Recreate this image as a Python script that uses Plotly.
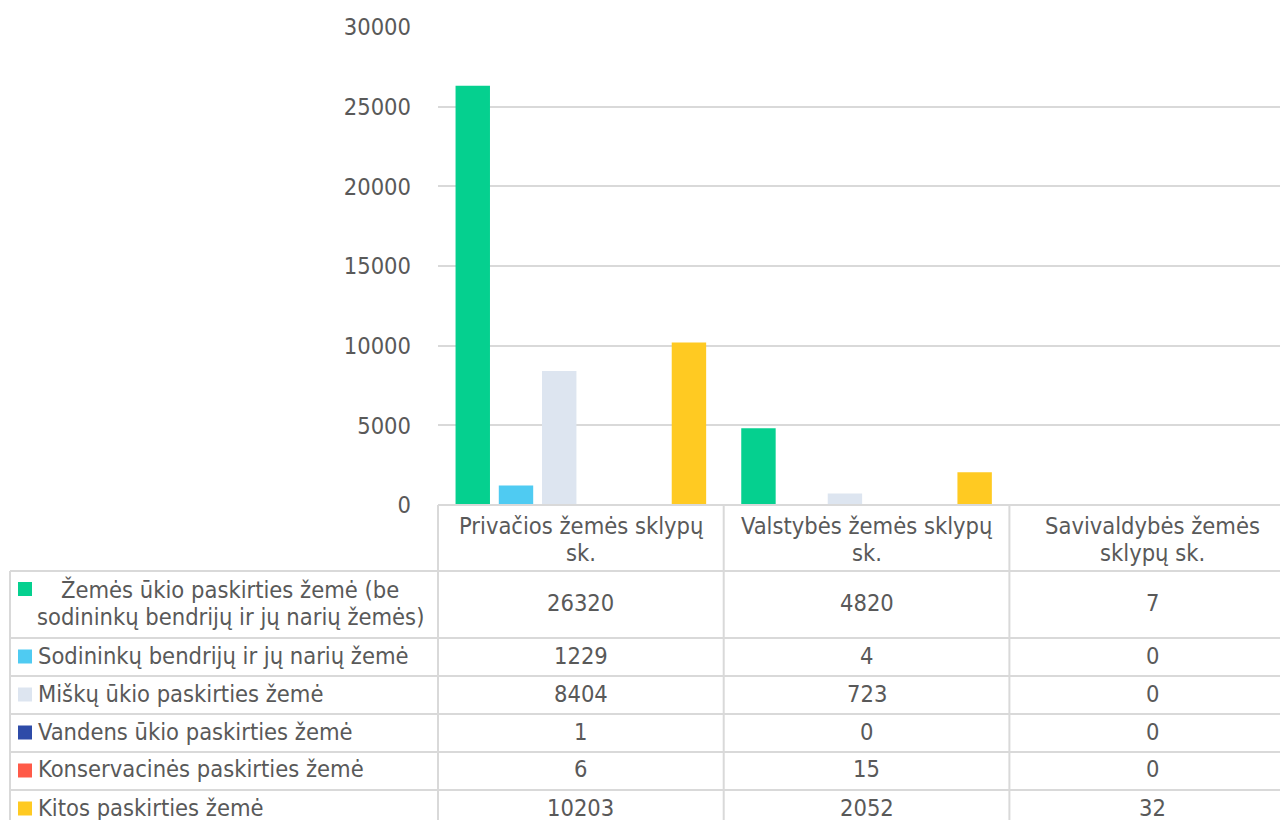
import plotly.graph_objects as go

# ---- data ----
categories = ["Privačios žemės sklypų<br>sk.", "Valstybės žemės sklypų<br>sk.", "Savivaldybės žemės<br>sklypų sk."]
series_names = [
    "Žemės ūkio paskirties žemė (be<br>sodininkų bendrijų ir jų narių žemės)",
    "Sodininkų bendrijų ir jų narių žemė",
    "Miškų ūkio paskirties žemė",
    "Vandens ūkio paskirties žemė",
    "Konservacinės paskirties žemė",
    "Kitos paskirties žemė",
]
zemes_ukio = [26320, 4820, 7]
sodininku = [1229, 4, 0]
misku_ukio = [8404, 723, 0]
vandens_ukio = [1, 0, 0]
konservacines = [6, 15, 0]
kitos = [10203, 2052, 32]
series_values = [zemes_ukio, sodininku, misku_ukio, vandens_ukio, konservacines, kitos]
colors = ["#05D08F", "#4FCBF2", "#DDE5F0", "#2E4BA8", "#FF5A48", "#FFCA22"]
y_ticks = [0, 5000, 10000, 15000, 20000, 25000, 30000]

# ---- layout geometry ----
# page has an 8px body margin; all reference pixel positions below are page pixels
OFF = 8
W, H = 1288 - OFF, 820 - OFF
ML_REF, TOP_REF, BASE_REF = 438, 27, 505
ML, MR, MT = ML_REF - OFF, 0, TOP_REF - OFF
PW = W - ML - MR
PH = BASE_REF - TOP_REF
MB = H - MT - PH
CAT_PX = 285.7

FONT = "DejaVu Sans Condensed, Noto Sans, sans-serif"
TXT = "#595959"
GRID = "#D9D9D9"
FS = 23.5

def px2x(px):
    return (px - ML_REF) / PW

def px2y(py):
    return (BASE_REF - py) / PH

fig = go.Figure()
xs = [0, 1, 2]
for name, vals, col in zip(series_names, series_values, colors):
    fig.add_trace(go.Bar(x=xs, y=vals, name=name, marker=dict(color=col, line=dict(width=0)),
                         showlegend=False))

shapes = []
annotations = []

# table geometry (page pixels)
row_edges = [505, 571, 638, 676, 714, 752, 790, 828]
col_edges_px = [ML_REF + CAT_PX * k for k in range(4)]
left_px = 10

def hline(py, x0px, x1px):
    shapes.append(dict(type="line", xref="paper", yref="paper",
                       x0=px2x(x0px), x1=px2x(x1px), y0=px2y(py), y1=px2y(py),
                       line=dict(color=GRID, width=2)))

def vline(px, y0px, y1px):
    shapes.append(dict(type="line", xref="paper", yref="paper",
                       x0=px2x(px), x1=px2x(px), y0=px2y(y0px), y1=px2y(y1px),
                       line=dict(color=GRID, width=2)))

hline(row_edges[0], col_edges_px[0], col_edges_px[3])
for r in row_edges[1:]:
    hline(r, left_px, col_edges_px[3])
vline(left_px, row_edges[1], row_edges[-1])
for c in col_edges_px:
    vline(c, row_edges[0], row_edges[-1])

LINE_H = 27

def add_lines(text, cx_px, cy_px, xanchor="center"):
    lines = text.split("<br>")
    n = len(lines)
    for i, ln in enumerate(lines):
        py = cy_px + (i - (n - 1) / 2) * LINE_H
        annotations.append(dict(xref="paper", yref="paper", x=px2x(cx_px), y=px2y(py),
                                text=ln, showarrow=False, xanchor=xanchor, yanchor="middle",
                                font=dict(family=FONT, size=FS, color=TXT)))

# header (category labels)
for k, cat in enumerate(categories):
    cx = (col_edges_px[k] + col_edges_px[k + 1]) / 2
    add_lines(cat, cx, (row_edges[0] + row_edges[1]) / 2 + 1)

# rows: legend keys, names, values
for i, (name, vals, col) in enumerate(zip(series_names, series_values, colors)):
    top, bot = row_edges[i + 1], row_edges[i + 2]
    cy = (top + bot) / 2 - 1.5
    key_cy = top + 18 if i == 0 else cy + 1
    shapes.append(dict(type="rect", xref="paper", yref="paper",
                       x0=px2x(18), x1=px2x(32), y0=px2y(key_cy - 7), y1=px2y(key_cy + 7),
                       fillcolor=col, line=dict(width=0)))
    if "<br>" in name:
        add_lines(name, 230, cy)
    else:
        add_lines(name, 36, cy, xanchor="left")
    for k, v in enumerate(vals):
        cx = (col_edges_px[k] + col_edges_px[k + 1]) / 2
        add_lines(str(v), cx, cy)

x_span = PW / CAT_PX
fig.update_layout(
    width=W, height=H,
    margin=dict(l=ML, r=MR, t=MT, b=MB, pad=0),
    paper_bgcolor="white", plot_bgcolor="white",
    barmode="group", bargap=0.092, bargroupgap=0.204,
    font=dict(family=FONT, size=FS, color=TXT),
    xaxis=dict(range=[-0.5, -0.5 + x_span], showticklabels=False, showgrid=False,
               zeroline=False, showline=False, ticks=""),
    yaxis=dict(range=[0, 30000], tickvals=y_ticks, tickformat="d", showgrid=True,
               gridcolor=GRID, gridwidth=2, zeroline=False, showline=False, ticks="",
               ticklabelstandoff=26, tickfont=dict(family=FONT, size=FS, color=TXT)),
    shapes=shapes, annotations=annotations,
)

fig.write_html("out.html")
